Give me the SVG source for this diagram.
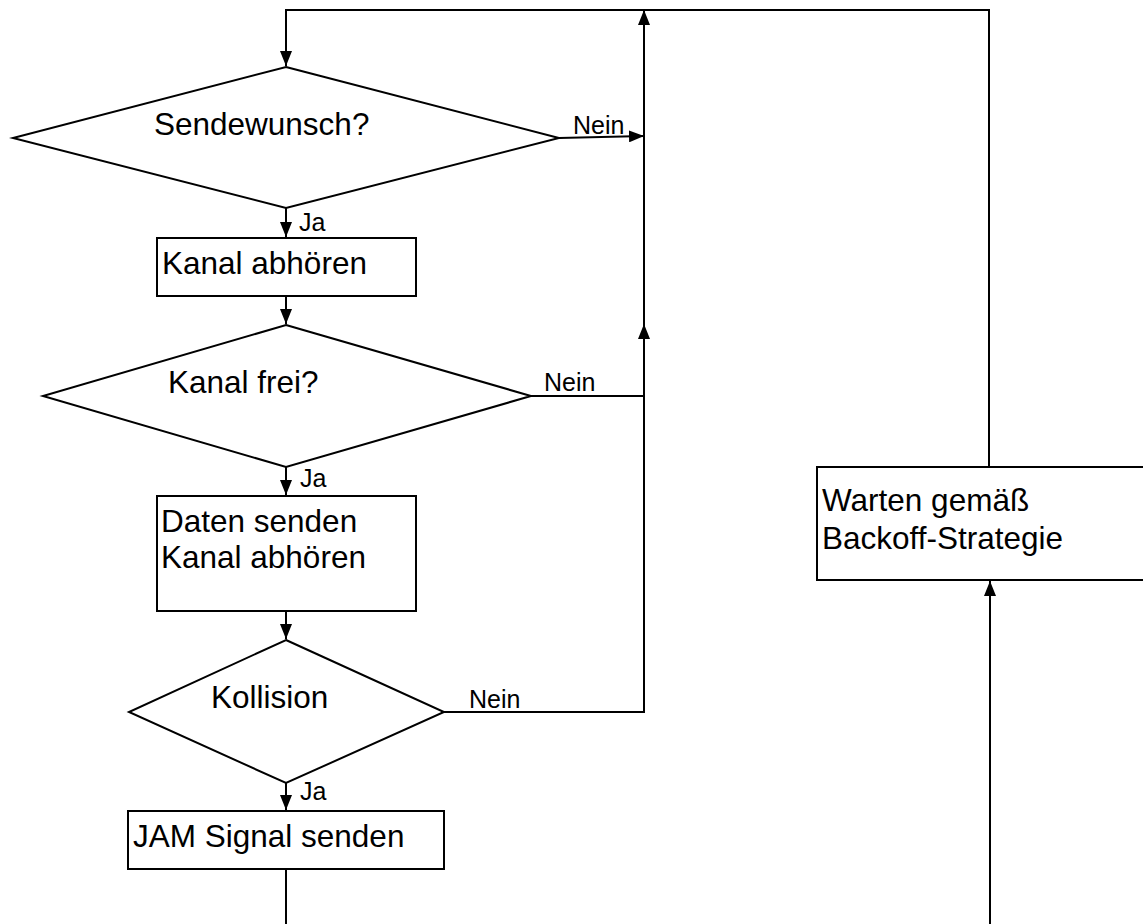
<svg xmlns="http://www.w3.org/2000/svg" width="1143" height="924" viewBox="0 0 1143 924">
<defs>
<marker id="arr" markerUnits="userSpaceOnUse" markerWidth="15" markerHeight="12" refX="15" refY="6" orient="auto">
<path d="M0,0 L15,6 L0,12 z" fill="#000"/>
</marker>
<style>
.shape{fill:#fff;stroke:#000;stroke-width:2}
.conn{fill:none;stroke:#000;stroke-width:2}
.t{font-family:"Liberation Sans",Arial,sans-serif;font-size:31.5px;fill:#000}
.l{font-family:"Liberation Sans",Arial,sans-serif;font-size:25px;fill:#000}
</style>
</defs>
<rect width="1143" height="924" fill="#fff"/>
<g id="connectors">
<path class="conn" d="M989,467 V10 H286 V66" marker-end="url(#arr)"/>
<path class="conn" d="M559,138 L644,136" marker-end="url(#arr)"/>
<path class="conn" d="M531,396 H644 V10" marker-end="url(#arr)"/>
<path class="conn" d="M444,712 H644 V324" marker-end="url(#arr)"/>
<path class="conn" d="M286,208 V237" marker-end="url(#arr)"/>
<path class="conn" d="M286,296 V324" marker-end="url(#arr)"/>
<path class="conn" d="M286,467 V495" marker-end="url(#arr)"/>
<path class="conn" d="M286,611 V639" marker-end="url(#arr)"/>
<path class="conn" d="M286,783 V810" marker-end="url(#arr)"/>
<path class="conn" d="M286,869 V924"/>
<path class="conn" d="M990,924 V581" marker-end="url(#arr)"/>
<text class="l" x="573" y="134">Nein</text>
<text class="l" x="544" y="391">Nein</text>
<text class="l" x="469" y="708">Nein</text>
<text class="l" x="299" y="231">Ja</text>
<text class="l" x="300" y="487">Ja</text>
<text class="l" x="300" y="800">Ja</text>
</g>
<g id="sendewunsch">
<polygon class="shape" points="286,67 559,138 286,208 13,138"/>
<text class="t" x="154" y="135">Sendewunsch?</text>
</g>
<g id="kanal-abhoeren">
<rect class="shape" x="157" y="238" width="259" height="58"/>
<text class="t" x="162" y="274">Kanal abhören</text>
</g>
<g id="kanal-frei">
<polygon class="shape" points="286,325 531,396 286,467 43,396"/>
<text class="t" x="168" y="393">Kanal frei?</text>
</g>
<g id="daten-senden">
<rect class="shape" x="157" y="496" width="259" height="115"/>
<text class="t" x="161" y="532">Daten senden</text>
<text class="t" x="161" y="568">Kanal abhören</text>
</g>
<g id="kollision">
<polygon class="shape" points="286,640 444,712 286,783 129,712"/>
<text class="t" x="211" y="708">Kollision</text>
</g>
<g id="jam">
<rect class="shape" x="128" y="811" width="316" height="58"/>
<text class="t" x="133" y="847">JAM Signal senden</text>
</g>
<g id="warten">
<rect class="shape" x="817" y="467" width="340" height="113"/>
<text class="t" x="822" y="511">Warten gemäß</text>
<text class="t" x="822" y="549">Backoff-Strategie</text>
</g>
</svg>
